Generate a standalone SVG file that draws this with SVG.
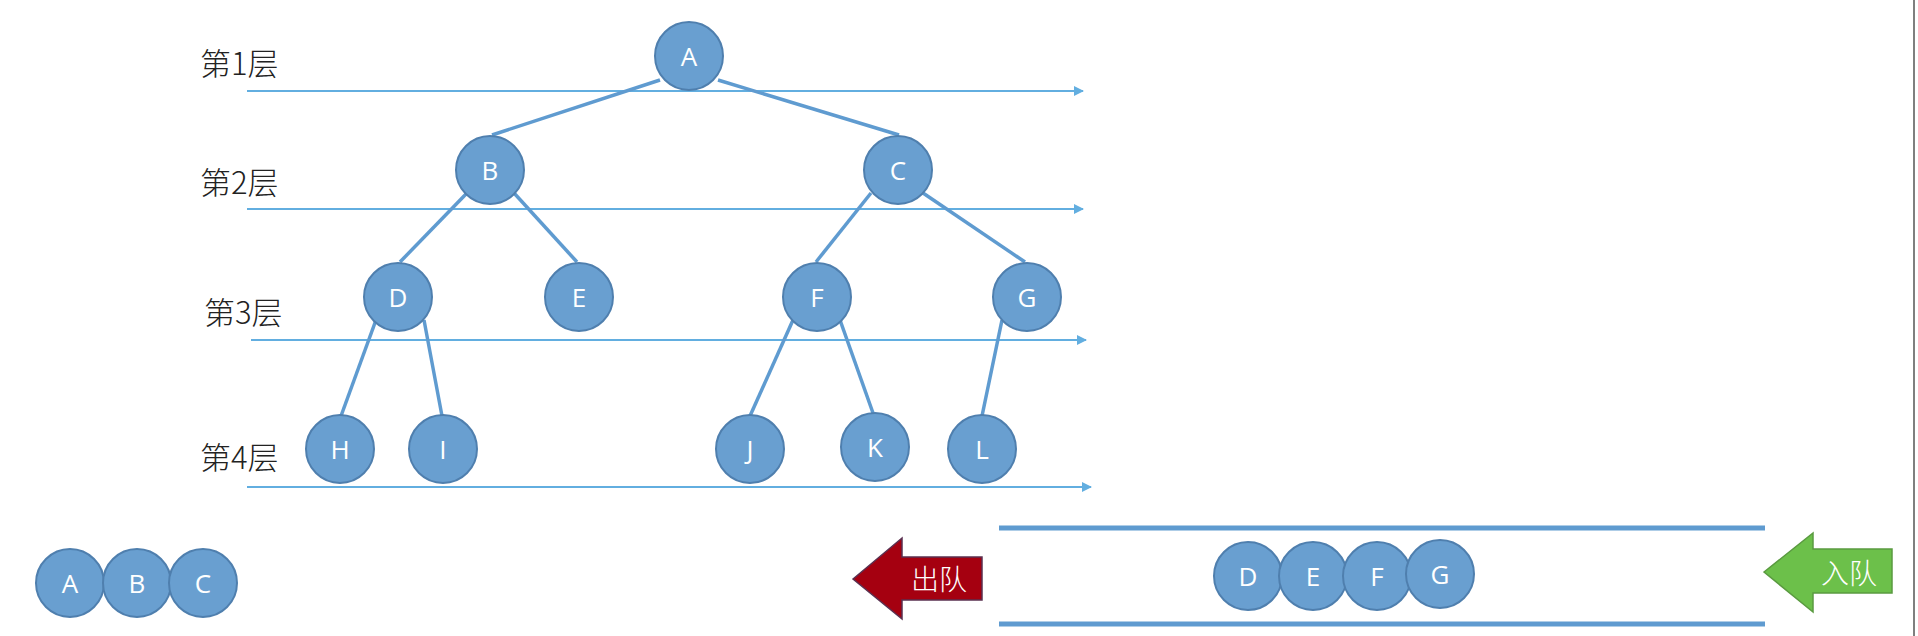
<svg xmlns="http://www.w3.org/2000/svg" width="1918" height="636" viewBox="0 0 1918 636">
<defs>
<style>
.node circle{fill:#699fd0;stroke:#4f7fae;stroke-width:2}
.node text{fill:#fff;font-family:"Open Sans","Liberation Sans",sans-serif;font-size:26px;text-anchor:middle;dominant-baseline:central}
.edge{stroke:#5f9bd0;stroke-width:3.5;fill:none}
.level{stroke:#62aee0;stroke-width:2;fill:none;marker-end:url(#ah)}
.lbl{font-family:"Noto Sans CJK SC","Liberation Serif",serif;font-size:31px;font-weight:300;fill:#222;dominant-baseline:central}
.q{stroke:#5f9bd0;stroke-width:5}
.arrowtxt{font-family:"Noto Sans CJK SC",sans-serif;font-size:28px;font-weight:300;fill:#fff;text-anchor:middle;dominant-baseline:central}
</style>
<marker id="ah" viewBox="0 0 10 10" refX="9" refY="5" markerWidth="12" markerHeight="10" orient="auto" markerUnits="userSpaceOnUse"><path d="M0,0 L10,5 L0,10 z" fill="#62aee0"/></marker>
</defs>
<rect width="1918" height="636" fill="#fff"/>
<line x1="1914" y1="0" x2="1914" y2="636" stroke="#555" stroke-width="1.5"/>
<g id="levels">
<line class="level" x1="247" y1="91" x2="1083" y2="91"/>
<line class="level" x1="247" y1="209" x2="1083" y2="209"/>
<line class="level" x1="251" y1="340" x2="1086" y2="340"/>
<line class="level" x1="247" y1="487" x2="1091" y2="487"/>
</g>
<g id="level-labels">
<text class="lbl" x="200" y="61">第1层</text>
<text class="lbl" x="200" y="180">第2层</text>
<text class="lbl" x="204" y="310">第3层</text>
<text class="lbl" x="200" y="455">第4层</text>
</g>
<g id="connectors">
<line class="edge" x1="660" y1="80" x2="492" y2="135"/>
<line class="edge" x1="718" y1="80" x2="899" y2="135"/>
<line class="edge" x1="467" y1="193" x2="400" y2="262"/>
<line class="edge" x1="514" y1="193" x2="577" y2="262"/>
<line class="edge" x1="871" y1="193" x2="816" y2="262"/>
<line class="edge" x1="923" y1="193" x2="1025" y2="262"/>
<line class="edge" x1="376" y1="320" x2="341" y2="416"/>
<line class="edge" x1="424" y1="320" x2="442" y2="416"/>
<line class="edge" x1="793" y1="320" x2="750" y2="416"/>
<line class="edge" x1="840" y1="320" x2="873" y2="413"/>
<line class="edge" x1="1002" y1="320" x2="982" y2="416"/>
</g>
<g id="node-A" class="node"><circle cx="689" cy="56" r="34"/><text x="689" y="56">A</text></g>
<g id="node-B" class="node"><circle cx="490" cy="170" r="34"/><text x="490" y="170">B</text></g>
<g id="node-C" class="node"><circle cx="898" cy="170" r="34"/><text x="898" y="170">C</text></g>
<g id="node-D" class="node"><circle cx="398" cy="297" r="34"/><text x="398" y="297">D</text></g>
<g id="node-E" class="node"><circle cx="579" cy="297" r="34"/><text x="579" y="297">E</text></g>
<g id="node-F" class="node"><circle cx="817" cy="297" r="34"/><text x="817" y="297">F</text></g>
<g id="node-G" class="node"><circle cx="1027" cy="297" r="34"/><text x="1027" y="297">G</text></g>
<g id="node-H" class="node"><circle cx="340" cy="449" r="34"/><text x="340" y="449">H</text></g>
<g id="node-I" class="node"><circle cx="443" cy="449" r="34"/><text x="443" y="449">I</text></g>
<g id="node-J" class="node"><circle cx="750" cy="449" r="34"/><text x="750" y="449">J</text></g>
<g id="node-K" class="node"><circle cx="875" cy="447" r="34"/><text x="875" y="447">K</text></g>
<g id="node-L" class="node"><circle cx="982" cy="449" r="34"/><text x="982" y="449">L</text></g>
<g id="out-A" class="node"><circle cx="70" cy="583" r="34"/><text x="70" y="583">A</text></g>
<g id="out-B" class="node"><circle cx="137" cy="583" r="34"/><text x="137" y="583">B</text></g>
<g id="out-C" class="node"><circle cx="203" cy="583" r="34"/><text x="203" y="583">C</text></g>
<g id="queue">
<line class="q" x1="999" y1="528" x2="1765" y2="528"/>
<line class="q" x1="999" y1="624" x2="1765" y2="624"/>
</g>
<g id="q-D" class="node"><circle cx="1248" cy="576" r="34"/><text x="1248" y="576">D</text></g>
<g id="q-E" class="node"><circle cx="1313" cy="576" r="34"/><text x="1313" y="576">E</text></g>
<g id="q-F" class="node"><circle cx="1377" cy="576" r="34"/><text x="1377" y="576">F</text></g>
<g id="q-G" class="node"><circle cx="1440" cy="574" r="34"/><text x="1440" y="574">G</text></g>
<g id="dequeue">
<path d="M853,579 L902,538 L902,557 L982,557 L982,600 L902,600 L902,619 Z" fill="#a50010" stroke="#5a3050" stroke-width="1.5"/>
<text class="arrowtxt" x="939" y="578">出队</text>
</g>
<g id="enqueue">
<path d="M1764,572 L1813,533 L1813,549 L1892,549 L1892,593 L1813,593 L1813,612 Z" fill="#6cc04a" stroke="#5a9a40" stroke-width="1.5"/>
<text class="arrowtxt" x="1849" y="572">入队</text>
</g>
</svg>
